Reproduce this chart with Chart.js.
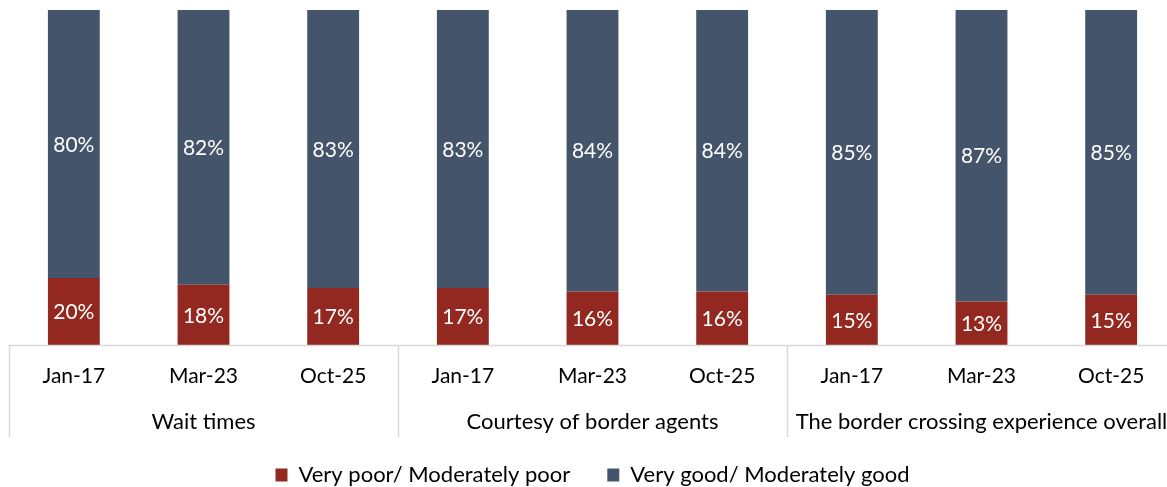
<!DOCTYPE html>
<html><head><meta charset="utf-8">
<script src="https://cdn.jsdelivr.net/npm/chart.js@4"></script>
<style>html,body{margin:0;padding:0;overflow:hidden;background:#fff}#wrap{width:1176px;height:487px}</style>
</head><body><div id="wrap"><canvas id="c"></canvas></div>
<script>
const periods = ['Jan-17','Mar-23','Oct-25','Jan-17','Mar-23','Oct-25','Jan-17','Mar-23','Oct-25'];
const groups = ['Wait times','Courtesy of border agents','The border crossing experience overall'];
const poor = [20,18,17,17,16,16,15,13,15];
const good = [80,82,83,83,84,84,85,87,85];
const seriesNames = ['Very poor/ Moderately poor','Very good/ Moderately good'];
const RED = '#932821', BLUE = '#44546A';
const FONT = 'Lato, "Open Sans", sans-serif';

const labelPlugin = {
  id: 'lbl',
  afterDatasetsDraw(chart) {
    const ctx = chart.ctx;
    ctx.save();
    ctx.fillStyle = '#fff';
    ctx.font = '21px ' + FONT;
    ctx.textAlign = 'center';
    ctx.textBaseline = 'middle';
    chart.data.datasets.forEach((ds, di) => {
      chart.getDatasetMeta(di).data.forEach((bar, i) => {
        const y = (bar.y + bar.base) / 2;
        ctx.fillText(ds.data[i] + '%', bar.x, y + 1);
      });
    });
    ctx.restore();
  },
  afterDraw(chart) {
    const ctx = chart.ctx, x = chart.scales.x, ca = chart.chartArea;
    const step = (x.getPixelForValue(1) - x.getPixelForValue(0));
    const left = x.getPixelForValue(0) - step / 2;
    ctx.save();
    ctx.strokeStyle = '#d9d9d9';
    ctx.lineWidth = 1.5;
    ctx.beginPath();
    ctx.moveTo(left, ca.bottom + 0.5); ctx.lineTo(chart.width, ca.bottom + 0.5);
    for (let g = 0; g <= 3; g++) {
      const px = Math.round(left + g * 3 * step) + 0.5;
      ctx.moveTo(px, ca.bottom); ctx.lineTo(px, ca.bottom + 92);
    }
    ctx.stroke();
    ctx.fillStyle = '#000';
    ctx.font = '22px ' + FONT;
    ctx.textAlign = 'center';
    ctx.textBaseline = 'middle';
    groups.forEach((g, gi) => {
      ctx.fillText(g, x.getPixelForValue(gi * 3 + 1), ca.bottom + 77);
    });
    ctx.restore();
  }
};

new Chart(document.getElementById('c'), {
  type: 'bar',
  data: {
    labels: periods,
    datasets: [
      { label: seriesNames[0], data: poor, backgroundColor: RED, barPercentage: 0.4, categoryPercentage: 1 },
      { label: seriesNames[1], data: good, backgroundColor: BLUE, barPercentage: 0.4, categoryPercentage: 1 }
    ]
  },
  options: {
    responsive: true, maintainAspectRatio: false, animation: false,
    layout: { padding: { left: 9, top: 10, right: 0, bottom: -9 } },
    plugins: {
      tooltip: { enabled: false },
      legend: {
        position: 'bottom',
        labels: { boxWidth: 12, boxHeight: 13, padding: 37, color: '#000', font: { family: FONT, size: 22 } }
      }
    },
    scales: {
      x: {
        stacked: true,
        grid: { display: false },
        border: { display: false },
        ticks: { color: '#000', font: { family: FONT, size: 21 }, padding: 11, maxRotation: 0, autoSkip: false },
        afterFit(s) { s.height = 82; }
      },
      y: { stacked: true, display: false, min: 0, max: 100 }
    }
  },
  plugins: [labelPlugin]
});
</script></body></html>
